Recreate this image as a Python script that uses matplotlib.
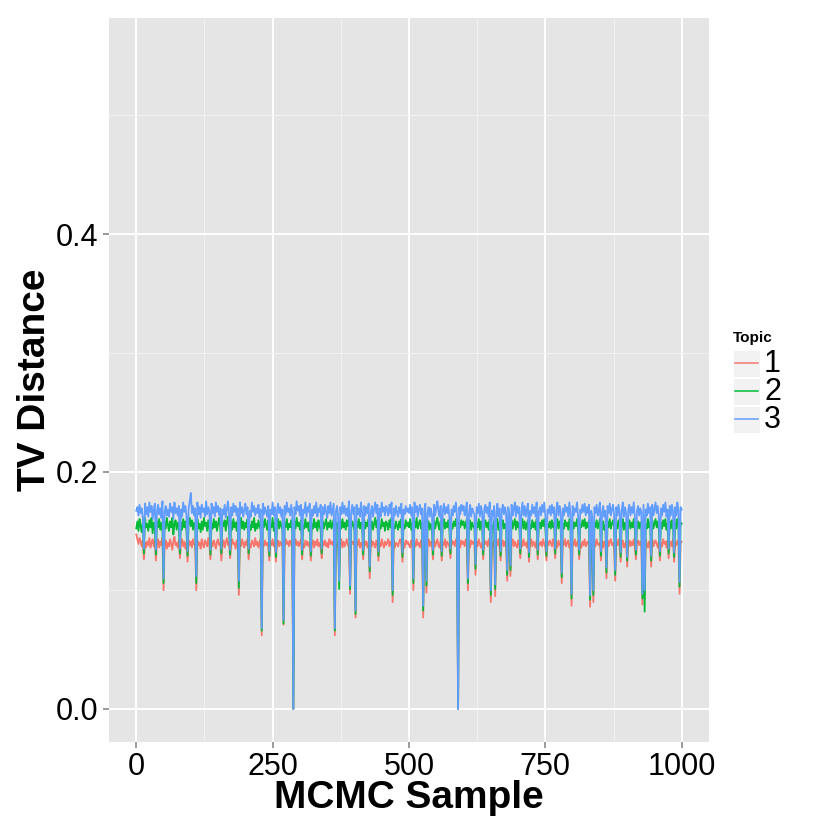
import matplotlib

matplotlib.use("Agg")
import matplotlib.pyplot as plt
from matplotlib.lines import Line2D
from matplotlib.patches import Rectangle
from matplotlib.ticker import MultipleLocator

plt.rcParams["font.family"] = ["Liberation Sans", "DejaVu Sans"]

# MCMC sample index (every 2nd sample is kept)
SAMPLES = list(range(0, 1001, 2))

TOPIC_1 = [
    .147, .143, .139, .144, .141, .137, .142, .126, .140, .136,
    .141, .138, .144, .136, .140, .143, .137, .141, .125, .139,
    .143, .136, .141, .138, .144, .100, .139, .142, .135, .140,
    .137, .143, .139, .134, .141, .145, .138, .140, .136, .142,
    .127, .139, .143, .137, .141, .135, .140, .124, .142, .138,
    .141, .136, .143, .139, .137, .100, .142, .138, .140, .135,
    .143, .139, .136, .142, .140, .137, .144, .138, .126, .141,
    .137, .142, .139, .135, .141, .143, .138, .140, .125, .139,
    .142, .136, .140, .144, .138, .141, .127, .137, .143, .139,
    .140, .135, .142, .138, .096, .141, .137, .143, .139, .136,
    .141, .138, .143, .126, .139, .136, .142, .140, .137, .144,
    .138, .141, .136, .140, .143, .062, .139, .137, .142, .138,
    .140, .136, .125, .141, .138, .143, .137, .140, .124, .139,
    .142, .137, .141, .138, .140, .071, .136, .143, .139, .141,
    .137, .142, .139, .136, .000, .140, .143, .138, .141, .137,
    .140, .143, .126, .139, .136, .142, .138, .141, .137, .140,
    .125, .139, .142, .136, .141, .138, .143, .137, .140, .136,
    .127, .141, .138, .142, .137, .140, .136, .143, .139, .141,
    .138, .142, .062, .139, .137, .141, .112, .138, .143, .136,
    .141, .137, .140, .143, .138, .136, .097, .142, .139, .141,
    .137, .077, .141, .138, .143, .136, .140, .139, .126, .142,
    .138, .141, .136, .140, .110, .143, .137, .141, .139, .136,
    .142, .138, .125, .140, .137, .143, .139, .136, .141, .138,
    .140, .143, .137, .141, .138, .090, .142, .136, .140, .139,
    .137, .141, .143, .138, .124, .140, .136, .142, .139, .141,
    .138, .136, .142, .139, .100, .141, .137, .143, .138, .140,
    .136, .142, .139, .077, .141, .138, .098, .140, .143, .137,
    .141, .139, .126, .142, .137, .140, .143, .138, .136, .141,
    .125, .140, .138, .143, .136, .141, .139, .137, .127, .142,
    .139, .141, .137, .143, .138, .000, .140, .136, .142, .139,
    .141, .137, .143, .138, .100, .140, .136, .142, .139, .141,
    .138, .113, .141, .137, .143, .139, .136, .140, .126, .142,
    .139, .141, .137, .143, .138, .090, .140, .136, .142, .095,
    .141, .138, .143, .136, .125, .140, .142, .137, .141, .139,
    .108, .141, .138, .112, .140, .143, .137, .141, .138, .136,
    .142, .139, .127, .141, .137, .143, .138, .140, .136, .142,
    .124, .140, .143, .137, .141, .139, .136, .142, .126, .140,
    .138, .141, .137, .143, .139, .136, .125, .141, .138, .142,
    .140, .137, .143, .139, .127, .141, .136, .142, .138, .140,
    .106, .141, .138, .143, .137, .140, .142, .136, .139, .087,
    .141, .138, .143, .137, .140, .142, .126, .139, .136, .141,
    .138, .143, .137, .140, .141, .136, .086, .142, .139, .090,
    .141, .137, .143, .139, .138, .140, .125, .142, .136, .141,
    .139, .110, .142, .137, .141, .143, .138, .140, .136, .108,
    .141, .138, .143, .137, .124, .140, .142, .136, .139, .141,
    .120, .139, .142, .137, .141, .138, .143, .136, .126, .140,
    .142, .138, .141, .137, .088, .140, .095, .143, .139, .136,
    .141, .138, .120, .143, .137, .140, .142, .139, .136, .141,
    .125, .140, .137, .143, .139, .141, .136, .142, .127, .138,
    .141, .137, .143, .124, .140, .138, .142, .139, .097, .140,
    .141,
]

TOPIC_2 = [
    .152, .158, .150, .160, .154, .149, .157, .131, .161, .153,
    .156, .150, .159, .153, .161, .148, .157, .152, .130, .158,
    .153, .160, .151, .157, .149, .106, .158, .152, .161, .155,
    .150, .158, .153, .161, .147, .156, .159, .151, .157, .154,
    .131, .157, .151, .160, .153, .158, .150, .129, .156, .161,
    .154, .159, .151, .157, .153, .106, .160, .152, .156, .149,
    .158, .151, .161, .154, .157, .150, .159, .153, .130, .156,
    .152, .160, .153, .158, .150, .156, .161, .153, .131, .157,
    .154, .159, .150, .157, .162, .152, .130, .158, .151, .160,
    .153, .157, .150, .159, .102, .155, .161, .152, .158, .151,
    .157, .153, .160, .131, .155, .151, .158, .153, .161, .150,
    .156, .152, .159, .154, .151, .066, .158, .153, .160, .155,
    .151, .159, .129, .156, .153, .161, .150, .157, .128, .155,
    .160, .152, .158, .154, .151, .072, .157, .153, .160, .151,
    .156, .153, .159, .150, .000, .158, .152, .161, .154, .157,
    .151, .159, .130, .155, .152, .160, .153, .157, .150, .158,
    .129, .156, .152, .160, .153, .157, .150, .159, .154, .151,
    .131, .158, .152, .156, .160, .151, .157, .153, .159, .152,
    .156, .160, .066, .153, .157, .151, .101, .158, .152, .160,
    .153, .157, .151, .159, .154, .161, .101, .152, .158, .155,
    .150, .080, .158, .153, .160, .152, .157, .154, .130, .159,
    .152, .157, .154, .160, .116, .153, .158, .151, .156, .161,
    .153, .159, .129, .155, .152, .160, .154, .157, .150, .158,
    .156, .151, .159, .153, .161, .096, .155, .152, .158, .154,
    .151, .158, .153, .160, .128, .155, .152, .159, .154, .157,
    .153, .160, .151, .157, .106, .158, .153, .161, .152, .156,
    .159, .152, .157, .083, .155, .160, .104, .153, .158, .151,
    .156, .153, .130, .159, .152, .157, .161, .154, .151, .158,
    .129, .155, .160, .152, .157, .153, .159, .151, .131, .156,
    .152, .158, .154, .160, .151, .000, .157, .153, .159, .155,
    .158, .152, .156, .160, .106, .153, .159, .151, .157, .154,
    .152, .118, .157, .153, .160, .151, .158, .154, .130, .156,
    .159, .153, .157, .151, .160, .096, .155, .152, .158, .101,
    .154, .160, .151, .157, .129, .155, .159, .152, .156, .153,
    .113, .157, .153, .117, .159, .152, .156, .160, .151, .158,
    .153, .157, .131, .154, .160, .152, .158, .151, .156, .159,
    .128, .155, .152, .159, .153, .157, .151, .160, .130, .154,
    .157, .152, .159, .154, .160, .151, .129, .156, .153, .158,
    .152, .159, .153, .157, .131, .155, .160, .152, .158, .154,
    .111, .156, .152, .159, .154, .157, .151, .160, .153, .093,
    .158, .152, .157, .154, .160, .151, .130, .156, .153, .159,
    .154, .160, .152, .157, .153, .159, .092, .155, .151, .096,
    .157, .153, .159, .152, .156, .160, .129, .154, .158, .151,
    .155, .115, .158, .153, .160, .152, .156, .159, .153, .113,
    .157, .152, .159, .154, .128, .156, .160, .151, .157, .153,
    .125, .156, .159, .152, .157, .153, .160, .151, .130, .155,
    .158, .152, .157, .154, .093, .159, .082, .156, .152, .160,
    .153, .157, .125, .159, .152, .156, .160, .153, .158, .151,
    .129, .157, .152, .159, .154, .160, .151, .156, .131, .158,
    .152, .159, .154, .128, .157, .152, .160, .155, .103, .157,
    .156,
]

TOPIC_3 = [
    .167, .170, .163, .172, .165, .169, .161, .135, .173, .164,
    .170, .162, .174, .166, .171, .160, .168, .173, .134, .167,
    .172, .164, .169, .161, .175, .110, .166, .171, .163, .168,
    .162, .173, .166, .170, .160, .174, .165, .169, .163, .171,
    .135, .168, .162, .174, .166, .171, .163, .133, .169, .175,
    .182, .165, .171, .163, .169, .112, .174, .164, .170, .161,
    .172, .166, .169, .162, .175, .164, .170, .167, .134, .173,
    .165, .170, .162, .174, .166, .171, .163, .169, .135, .168,
    .164, .172, .161, .168, .175, .165, .134, .170, .163, .173,
    .166, .171, .163, .169, .108, .174, .165, .170, .162, .168,
    .173, .164, .170, .135, .167, .162, .174, .166, .171, .163,
    .169, .165, .172, .161, .168, .068, .173, .164, .170, .166,
    .162, .171, .133, .168, .164, .174, .163, .170, .132, .167,
    .173, .165, .170, .162, .168, .075, .171, .164, .174, .166,
    .169, .163, .172, .166, .000, .170, .164, .175, .167, .171,
    .163, .172, .134, .168, .165, .174, .162, .170, .166, .173,
    .133, .168, .163, .171, .165, .174, .162, .169, .166, .172,
    .135, .170, .164, .172, .166, .161, .171, .165, .174, .163,
    .168, .173, .068, .166, .171, .163, .108, .170, .164, .174,
    .165, .171, .163, .169, .162, .175, .104, .166, .172, .164,
    .170, .083, .172, .164, .169, .162, .174, .166, .134, .171,
    .163, .170, .165, .173, .120, .166, .171, .162, .168, .174,
    .165, .172, .133, .169, .162, .174, .166, .170, .163, .171,
    .168, .163, .172, .165, .174, .100, .169, .163, .171, .166,
    .162, .170, .165, .173, .132, .168, .164, .171, .166, .169,
    .165, .172, .163, .170, .110, .174, .166, .171, .162, .168,
    .172, .164, .169, .087, .167, .173, .108, .165, .170, .162,
    .169, .164, .134, .172, .163, .170, .175, .166, .162, .171,
    .133, .167, .173, .164, .170, .165, .172, .162, .135, .168,
    .163, .171, .166, .174, .162, .000, .170, .164, .172, .167,
    .171, .163, .168, .174, .110, .165, .172, .162, .169, .166,
    .164, .122, .170, .165, .173, .162, .171, .166, .134, .168,
    .172, .165, .170, .162, .174, .100, .167, .163, .171, .105,
    .166, .173, .162, .169, .133, .167, .172, .164, .170, .165,
    .117, .170, .164, .121, .172, .163, .168, .174, .162, .171,
    .165, .170, .135, .166, .174, .163, .171, .162, .168, .173,
    .132, .167, .163, .172, .165, .170, .162, .174, .134, .166,
    .170, .163, .172, .166, .174, .162, .133, .168, .165, .171,
    .163, .172, .165, .170, .135, .167, .174, .163, .171, .166,
    .115, .169, .163, .172, .166, .170, .162, .174, .165, .097,
    .171, .163, .169, .166, .174, .162, .134, .168, .165, .172,
    .166, .173, .163, .170, .165, .172, .096, .167, .162, .100,
    .170, .165, .172, .163, .168, .174, .133, .166, .171, .162,
    .167, .119, .171, .165, .173, .163, .168, .172, .164, .117,
    .170, .163, .172, .166, .132, .168, .174, .162, .170, .165,
    .128, .168, .172, .163, .170, .165, .174, .162, .134, .167,
    .171, .163, .169, .166, .097, .172, .100, .168, .163, .173,
    .165, .170, .129, .172, .163, .168, .174, .165, .171, .162,
    .133, .169, .163, .172, .166, .174, .162, .168, .135, .171,
    .163, .172, .166, .132, .170, .163, .174, .167, .107, .170,
    .168,
]

TOPIC_LABELS = ["1", "2", "3"]
TOPIC_COLORS = ["#F8766D", "#00BA38", "#619CFF"]


def main() -> None:
    fig = plt.figure(figsize=(8.3, 8.3), dpi=100)
    ax = fig.add_axes([109 / 830, 88 / 830, 600 / 830, 724 / 830])
    ax.set_facecolor("#E5E5E5")

    for values, color in zip([TOPIC_1, TOPIC_2, TOPIC_3], TOPIC_COLORS):
        ax.plot(SAMPLES, values, color=color, linewidth=1.3)

    ax.set_xlim(-50, 1050)
    ax.set_ylim(-0.0278, 0.582)
    ax.xaxis.set_major_locator(MultipleLocator(250))
    ax.xaxis.set_minor_locator(MultipleLocator(125))
    ax.yaxis.set_major_locator(MultipleLocator(0.2))
    ax.yaxis.set_minor_locator(MultipleLocator(0.1))
    ax.set_yticks([0.0, 0.2, 0.4])
    ax.set_yticklabels(["0.0", "0.2", "0.4"])

    ax.grid(which="major", color="white", linewidth=1.4)
    ax.grid(which="minor", color="#F2F2F2", linewidth=0.7)
    ax.set_axisbelow(True)
    ax.spines[["top", "right", "left", "bottom"]].set_visible(False)

    ax.tick_params(which="major", length=4.5, width=1.1, color="#7F7F7F",
                   labelsize=22, labelcolor="black", pad=3)
    ax.tick_params(which="minor", length=0)

    ax.set_xlabel("MCMC Sample", fontsize=28, fontweight="bold", labelpad=-2)
    ax.set_ylabel("TV Distance", fontsize=28, fontweight="bold", labelpad=2)

    # legend drawn by hand (ggplot style key boxes)
    def px(x, y):
        return x / 830, 1 - y / 830

    fig.text(*px(733, 338), "Topic", fontsize=11, fontweight="bold", va="center", ha="left")
    for i, (label, color) in enumerate(zip(TOPIC_LABELS, TOPIC_COLORS)):
        top = 350 + i * 28
        x0, y0 = px(733, top + 27)
        fig.add_artist(Rectangle((x0, y0), 27 / 830, 27 / 830, transform=fig.transFigure,
                                 facecolor="#F2F2F2", edgecolor="white", linewidth=0.8))
        xa, ya = px(735, top + 13.5)
        xb, _ = px(758, top + 13.5)
        fig.add_artist(Line2D([xa, xb], [ya, ya], transform=fig.transFigure, color=color, linewidth=1.1))
        fig.text(*px(764, top + 14), label, fontsize=22, va="center", ha="left")

    fig.savefig("out.png", dpi=100)
    plt.close(fig)


if __name__ == "__main__":
    main()
